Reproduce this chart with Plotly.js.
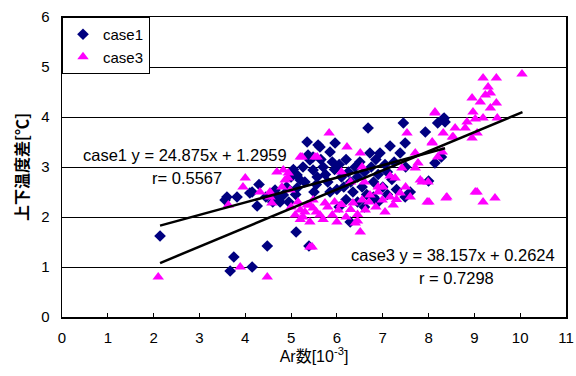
<!DOCTYPE html>
<html><head><meta charset="utf-8">
<script src="https://cdn.plot.ly/plotly-3.0.1.min.js"></script>
<style>html,body{margin:0;padding:0;background:#fff}#chart{width:576px;height:376px}</style>
</head><body><div id="chart"></div>
<script>
var case1X = [2.14,3.67,3.75,4.15,4.48,5.11,5.39,6.29,
3.56,3.6,3.82,4.1,4.15,4.26,4.65,4.69,4.76,4.83,4.9,5.0,5.13,5.2,5.26,5.13,5.48,5.57,5.35,5.59,5.37,5.41,5.48,5.63,5.85,5.96,5.9,5.7,5.75,5.8,5.95,6.05,6.1,6.15,6.2,6.25,6.3,6.35,6.4,6.45,6.5,6.55,6.6,6.65,6.68,6.72,6.75,6.8,6.85,6.9,6.94,7.0,7.05,7.1,7.16,7.2,7.25,7.3,7.38,7.45,7.49,7.5,7.49,7.6,7.93,8.0,8.14,8.2,8.28,8.32,8.36,8.34,
5.05,5.3,5.55,5.65,6.0,6.2,6.45,6.6,6.8,5.1,4.95,4.6,4.3,4.45,5.5,6.9,7.1,6.05,5.85];
var case1Y = [1.62,0.92,1.2,1.0,1.42,1.7,1.42,1.9,
2.34,2.4,2.4,2.48,2.5,2.22,2.54,2.44,2.3,2.44,2.6,2.8,2.84,2.74,3.0,2.58,2.94,2.8,3.5,3.44,3.24,3.14,3.2,3.4,3.3,3.48,3.1,3.0,2.85,2.7,2.95,3.05,2.8,2.6,3.15,2.9,2.7,2.5,3.0,2.8,3.1,2.6,2.9,2.45,3.78,3.28,3.0,2.7,3.15,2.85,3.28,2.6,3.05,2.9,3.42,2.75,3.1,2.55,3.28,3.88,3.48,3.0,2.4,2.5,3.7,2.72,3.08,3.88,3.2,3.96,3.9,3.98,
2.95,2.7,2.65,3.15,2.55,2.35,2.3,2.2,2.4,2.45,2.3,2.3,2.65,2.4,2.5,2.3,2.45,2.2,2.5];

var case3X = [2.1,3.89,4.48,5.41,5.46,6.51,6.4,6.45,
3.63,4.0,3.95,4.32,4.54,4.58,4.54,4.69,4.94,4.87,4.8,4.98,5.24,5.52,5.57,5.2,4.83,4.93,
5.2,5.35,5.48,5.41,5.09,5.26,5.48,5.74,5.9,5.63,6.03,6.35,6.55,6.72,6.62,7.05,7.23,7.38,7.97,7.16,6.99,5.41,5.0,5.15,5.3,5.55,5.8,5.95,6.1,6.2,6.3,6.45,6.7,6.85,6.9,7.0,7.3,5.7,6.0,5.2,
5.83,6.22,6.51,6.55,7.16,7.27,6.9,7.42,7.71,7.77,7.71,7.53,7.82,7.86,7.99,6.3,6.1,6.6,7.5,7.6,
8.01,8.38,8.4,9.02,9.06,9.19,9.45,
8.08,8.14,8.32,8.54,8.08,8.52,8.58,8.8,8.84,8.95,8.95,8.97,9.02,9.06,9.13,9.19,9.19,9.24,9.3,9.35,9.35,9.48,9.48,9.5,10.04,8.14,8.3,8.2];
var case3Y = [0.8,1.0,0.8,1.4,1.4,1.7,1.88,1.92,
2.24,2.78,2.6,2.5,2.5,2.28,2.4,2.9,2.88,2.74,2.6,2.54,3.2,3.2,3.2,3.2,2.94,2.78,
2.14,2.24,2.18,1.9,2.04,2.0,2.34,2.28,2.04,2.04,2.14,2.28,2.34,2.44,2.14,2.1,2.24,2.48,2.3,2.4,2.34,2.24,2.2,2.3,2.1,2.1,2.2,2.3,2.25,2.0,2.15,2.05,2.3,2.2,2.5,2.6,2.35,1.95,1.9,1.95,
3.68,3.4,3.28,3.0,2.82,2.78,2.6,2.98,2.98,3.08,3.28,3.68,2.74,2.7,2.7,2.7,2.9,2.7,2.6,2.4,
2.3,2.38,2.4,2.5,2.5,2.3,2.38,
3.48,4.08,3.68,3.6,3.5,3.6,3.78,3.78,3.9,3.58,4.38,4.1,3.96,3.68,4.3,3.98,4.78,4.44,4.6,4.48,4.18,4.78,4.28,3.98,4.86,4.1,3.3,3.2];

var fit1 = {slope: 24.875, intercept: 1.2959, xRange: [2.14, 8.36]};
var fit3 = {slope: 38.157, intercept: 0.2624, xRange: [2.14, 10.05]};
function fitY(f){ return f.xRange.map(function(x){ return f.slope*x/100 + f.intercept; }); }

var font = "'Liberation Sans', Arial, 'Noto Sans CJK JP', sans-serif";

var traces = [
 {x: case1X, y: case1Y, mode:'markers', type:'scatter', name:'case1',
  marker:{symbol:'diamond', color:'#000080', size:9}},
 {x: case3X, y: case3Y, mode:'markers', type:'scatter', name:'case3',
  marker:{symbol:'triangle-up', color:'#FF00FF', size:10}},
 {x: fit1.xRange, y: fitY(fit1), mode:'lines', type:'scatter', showlegend:false,
  line:{color:'#000', width:2.5}},
 {x: fit3.xRange, y: fitY(fit3), mode:'lines', type:'scatter', showlegend:false,
  line:{color:'#000', width:2.5}}
];

var layout = {
 width:576, height:376,
 margin:{l:62, r:10, t:17, b:59},
 paper_bgcolor:'#fff', plot_bgcolor:'#fff',
 font:{family:font, size:15, color:'#000'},
 showlegend:true,
 legend:{x:0, y:1, xanchor:'left', yanchor:'top', bgcolor:'#fff', bordercolor:'#000', borderwidth:1,
   font:{size:15}, tracegroupgap:0},
 xaxis:{range:[0,11], dtick:1, tick0:0, showgrid:false, zeroline:false,
   showline:true, linecolor:'#000', linewidth:1.5, mirror:true,
   ticks:'inside', ticklen:4, tickcolor:'#000', ticklabelstandoff:6,
   tickfont:{size:15},
   title:{text:'Ar数[10<sup>-3</sup>]', font:{size:16}, standoff:4}},
 yaxis:{range:[0,6], dtick:1, tick0:0, showgrid:true, gridcolor:'#000', gridwidth:1, zeroline:false,
   showline:true, linecolor:'#000', linewidth:1.5, mirror:true,
   ticks:'inside', ticklen:4, tickcolor:'#000', ticklabelstandoff:8,
   tickfont:{size:15},
   title:{text:'上下温度差[℃]', font:{size:16, family:"'Noto Sans CJK JP', sans-serif", weight:'bold'}, standoff:8}},
 annotations:[
  {x:2.2, y:3.24, xref:'x', yref:'y', text:'case1 y = 24.875x + 1.2959', showarrow:false, xanchor:'left', yanchor:'middle', font:{size:16.5}, xshift:-82},
  {x:3.8, y:2.78, xref:'x', yref:'y', text:'r= 0.5567', showarrow:false, xanchor:'left', yanchor:'middle', font:{size:16.5}, xshift:-86},
  {x:10.8, y:1.24, xref:'x', yref:'y', text:'case3 y = 38.157x + 0.2624', showarrow:false, xanchor:'right', yanchor:'middle', font:{size:16.5}},
  {x:7.75, y:0.78, xref:'x', yref:'y', text:'r = 0.7298', showarrow:false, xanchor:'left', yanchor:'middle', font:{size:16.5}}
 ]
};
Plotly.newPlot('chart', traces, layout, {displayModeBar:false, staticPlot:true});
</script></body></html>
